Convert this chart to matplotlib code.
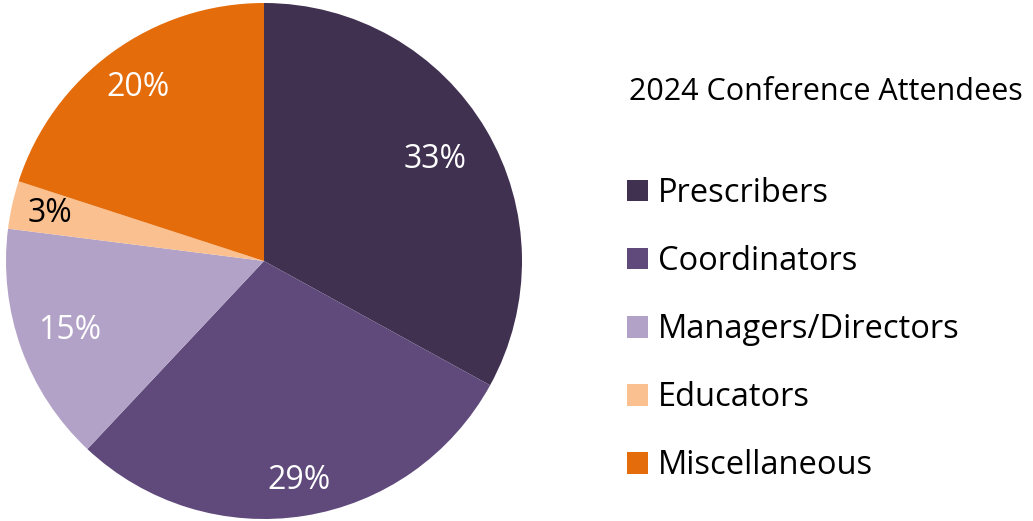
import numpy as np
import matplotlib.pyplot as plt
from matplotlib.patches import Patch

plt.rcParams['font.family'] = ['Open Sans', 'DejaVu Sans']

groups = ['Prescribers', 'Coordinators', 'Managers/Directors', 'Educators', 'Miscellaneous']
shares = [33, 29, 15, 3, 20]
colors = ['#403151', '#604a7b', '#b3a2c7', '#fac090', '#e46c0a']
label_colors = ['white', 'white', 'white', 'black', 'white']
label_radius = [0.77, 0.86, 0.80, 0.85, 0.83]  # where each % label sits, fraction of radius
title = '2024 Conference Attendees'

fig = plt.figure(figsize=(10.33, 5.21), dpi=100)
ax = fig.add_axes([6 / 1033, 2 / 521, 516 / 1033, 516 / 521])

wedges, texts, autotexts = ax.pie(shares, colors=colors, startangle=90, counterclock=False,
                                  autopct='%d%%', radius=1.0,
                                  wedgeprops=dict(linewidth=0))
for w, t, c, r in zip(wedges, autotexts, label_colors, label_radius):
    mid = np.deg2rad((w.theta1 + w.theta2) / 2)
    t.set_position((r * np.cos(mid), r * np.sin(mid)))
    t.set_color(c)
    t.set_fontsize(23)
ax.set_xlim(-1, 1)
ax.set_ylim(-1, 1)
ax.set_aspect('equal')
ax.axis('off')

fig.text(629 / 1033, 1 - 92 / 521, title, fontsize=22, va='center', ha='left')

handles = [Patch(facecolor=c, edgecolor='none') for c in colors]
fig.legend(handles, groups, loc='upper left', bbox_to_anchor=(614 / 1033, 1 - 164 / 521),
           frameon=False, fontsize=23.5, handlelength=0.64, handleheight=0.64,
           handletextpad=0.3, labelspacing=1.075, borderaxespad=0)

fig.savefig('out.png', dpi=100)
